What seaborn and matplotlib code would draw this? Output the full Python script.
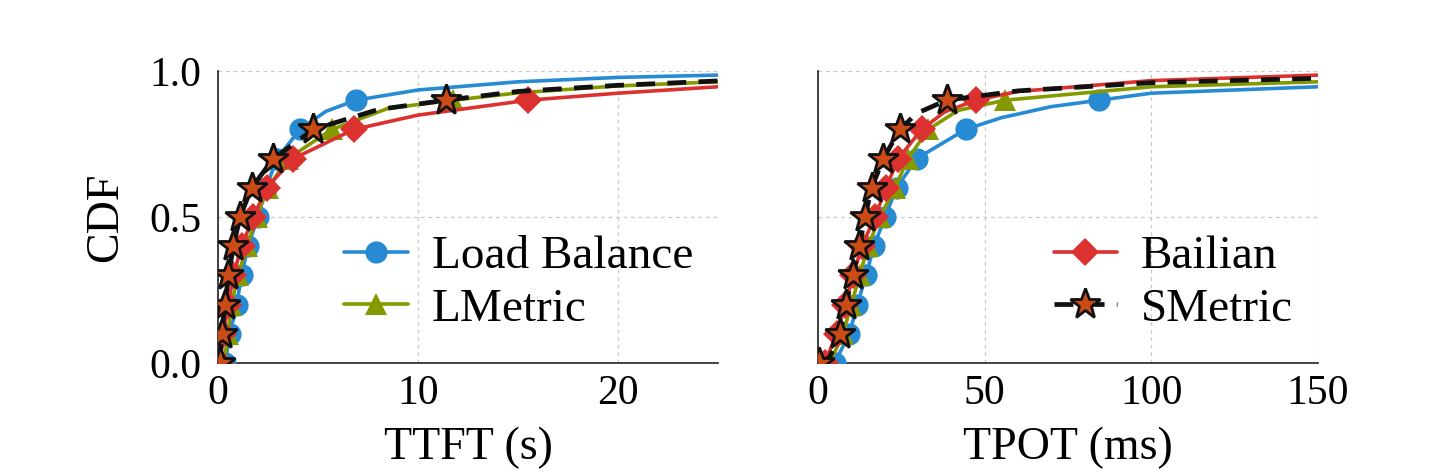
import numpy as np
import pandas as pd
import matplotlib
matplotlib.use("Agg")
import matplotlib.pyplot as plt
from matplotlib.lines import Line2D
import seaborn as sns

sns.set_style("white")
plt.rcParams["font.family"] = ["Liberation Serif", "DejaVu Serif"]
plt.rcParams["text.color"] = "black"
plt.rcParams["axes.labelcolor"] = "black"
plt.rcParams["xtick.color"] = "black"
plt.rcParams["ytick.color"] = "black"

# CDF levels at which markers are drawn
levels = [0.0, 0.1, 0.2, 0.3, 0.4, 0.5, 0.6, 0.7, 0.8, 0.9]

# ---- TTFT (s): x value at each CDF level ----
ttft_lb = [0.35, 0.6, 0.93, 1.18, 1.5, 2.0, 2.4, 2.95, 4.1, 6.9]
ttft_lm = [0.3, 0.5, 0.67, 1.0, 1.45, 1.93, 2.5, 3.5, 5.7, 11.75]
ttft_bl = [0.1, 0.27, 0.5, 0.77, 1.18, 1.77, 2.43, 3.77, 6.8, 15.5]
ttft_sm = [0.1, 0.18, 0.35, 0.52, 0.77, 1.1, 1.68, 2.77, 4.77, 11.4]
# extra curve points (x, cdf)
ttft_lb_tail_x = [5.4, 10, 15, 20, 25]
ttft_lb_tail_y = [0.862, 0.935, 0.963, 0.978, 0.986]
ttft_lm_tail_x = [8.5, 15, 20, 25]
ttft_lm_tail_y = [0.872, 0.925, 0.949, 0.963]
ttft_bl_tail_x = [10, 20, 25]
ttft_bl_tail_y = [0.849, 0.924, 0.946]
ttft_sm_tail_x = [8.0, 15, 20, 25]
ttft_sm_tail_y = [0.868, 0.93, 0.951, 0.966]

# ---- TPOT (ms): x value at each CDF level ----
tpot_lb = [5.0, 9.4, 11.8, 14.4, 16.8, 20.1, 23.6, 29.6, 44.3, 84.4]
tpot_lm = [3.5, 7.5, 10.0, 12.5, 15.0, 18.6, 23.1, 27.0, 33.1, 56.1]
tpot_bl = [2.0, 5.6, 8.1, 10.6, 13.1, 17.1, 20.4, 24.1, 31.1, 47.4]
tpot_sm = [0.3, 6.6, 8.4, 10.4, 12.4, 14.1, 16.1, 19.6, 24.6, 38.6]
tpot_lb_tail_x = [55, 70, 100, 150]
tpot_lb_tail_y = [0.84, 0.878, 0.924, 0.946]
tpot_lm_tail_x = [42, 100, 150]
tpot_lm_tail_y = [0.865, 0.946, 0.963]
tpot_bl_tail_x = [38, 60, 100, 150]
tpot_bl_tail_y = [0.86, 0.93, 0.967, 0.986]
tpot_sm_tail_x = [3.5, 29.6, 60, 100, 150]
tpot_sm_tail_y = [0.02, 0.855, 0.932, 0.96, 0.975]

names = ["Load Balance", "LMetric", "Bailian", "SMetric"]

styles = {
    "Load Balance": dict(color="#268bd2", marker="o", markersize=16, markerfacecolor="#268bd2",
                         markeredgecolor="#268bd2", markeredgewidth=0, lw=2.6, ls="-", zorder=3),
    "LMetric": dict(color="#859900", marker="^", markersize=16, markerfacecolor="#859900",
                    markeredgecolor="#859900", markeredgewidth=0, lw=2.6, ls="-", zorder=4),
    "Bailian": dict(color="#dc322f", marker="D", markersize=14, markerfacecolor="#dc322f",
                    markeredgecolor="#dc322f", markeredgewidth=0, lw=2.6, ls="-", zorder=5),
    "SMetric": dict(color="#111111", marker="*", markersize=23, markerfacecolor="#cb4b16",
                    markeredgecolor="#111111", markeredgewidth=2.0, lw=3.4, ls=(0, (4, 2.6)), zorder=6),
}


def build(dec, tx, ty):
    pts = [(x, y, True) for x, y in zip(dec, levels)] + [(x, y, False) for x, y in zip(tx, ty)]
    pts.sort(key=lambda p: p[1])
    df = pd.DataFrame({"x": [p[0] for p in pts], "cdf": [p[1] for p in pts]})
    mk = [i for i, p in enumerate(pts) if p[2]]
    return df, mk


panel_ttft = {
    "Load Balance": build(ttft_lb, ttft_lb_tail_x, ttft_lb_tail_y),
    "LMetric": build(ttft_lm, ttft_lm_tail_x, ttft_lm_tail_y),
    "Bailian": build(ttft_bl, ttft_bl_tail_x, ttft_bl_tail_y),
    "SMetric": build(ttft_sm, ttft_sm_tail_x, ttft_sm_tail_y),
}
panel_tpot = {
    "Load Balance": build(tpot_lb, tpot_lb_tail_x, tpot_lb_tail_y),
    "LMetric": build(tpot_lm, tpot_lm_tail_x, tpot_lm_tail_y),
    "Bailian": build(tpot_bl, tpot_bl_tail_x, tpot_bl_tail_y),
    "SMetric": build(tpot_sm, tpot_sm_tail_x, tpot_sm_tail_y),
}

W, H = 1440, 474
fig = plt.figure(figsize=(14.4, 4.74), dpi=100)
ax1 = fig.add_axes([218 / W, 111 / H, 500 / W, 292 / H])
ax2 = fig.add_axes([818 / W, 111 / H, 500 / W, 292 / H])

FS_TICK = 30
FS_LAB = 33
FS_LEG = 34

for ax, panel, xlim, xticks, xlabel in [
    (ax1, panel_ttft, (0, 25), [0, 10, 20], "TTFT (s)"),
    (ax2, panel_tpot, (0, 150), [0, 50, 100, 150], "TPOT (ms)"),
]:
    for name in names:
        df, mk = panel[name]
        st = dict(styles[name])
        sns.lineplot(data=df, x="x", y="cdf", ax=ax, sort=False, estimator=None,
                     markevery=mk, legend=False, **st)
    ax.set_xlim(*xlim)
    ax.set_ylim(0, 1.0)
    ax.set_xticks(xticks)
    ax.set_yticks([0.0, 0.5, 1.0])
    ax.grid(True, color="#c8c8c8", lw=0.9, ls=(0, (3, 3)))
    ax.set_axisbelow(True)
    for s in ["top", "right"]:
        ax.spines[s].set_visible(False)
    for s in ["left", "bottom"]:
        ax.spines[s].set_color("#222222")
        ax.spines[s].set_linewidth(1.2)
    ax.tick_params(axis="y", direction="in", length=9, width=1.0, labelsize=FS_TICK, pad=12,
                   color="#222222")
    ax.tick_params(axis="x", direction="in", length=0, labelsize=FS_TICK, pad=8)
    ax.set_xlabel(xlabel, fontsize=FS_LAB, labelpad=10)
    ax.set_ylabel("")

ax1.set_yticklabels(["0.0", "0.5", "1.0"])
ax2.set_yticklabels([])
ax1.set_ylabel("CDF", fontsize=FS_LAB, labelpad=16)


def handle(name):
    st = styles[name]
    return Line2D([], [], color=st["color"], marker=st["marker"], markersize=st["markersize"],
                  markerfacecolor=st["markerfacecolor"], markeredgecolor=st["markeredgecolor"],
                  markeredgewidth=st["markeredgewidth"], lw=st["lw"], ls=st["ls"])


for ax, group in [(ax1, ["Load Balance", "LMetric"]), (ax2, ["Bailian", "SMetric"])]:
    ax.legend([handle(n) for n in group], group, loc="lower right", bbox_to_anchor=(0.95, 0.11),
              frameon=False, fontsize=FS_LEG, handlelength=1.35, handletextpad=0.5,
              labelspacing=0.2, borderpad=0, borderaxespad=0)

fig.savefig("out.png", dpi=100)
